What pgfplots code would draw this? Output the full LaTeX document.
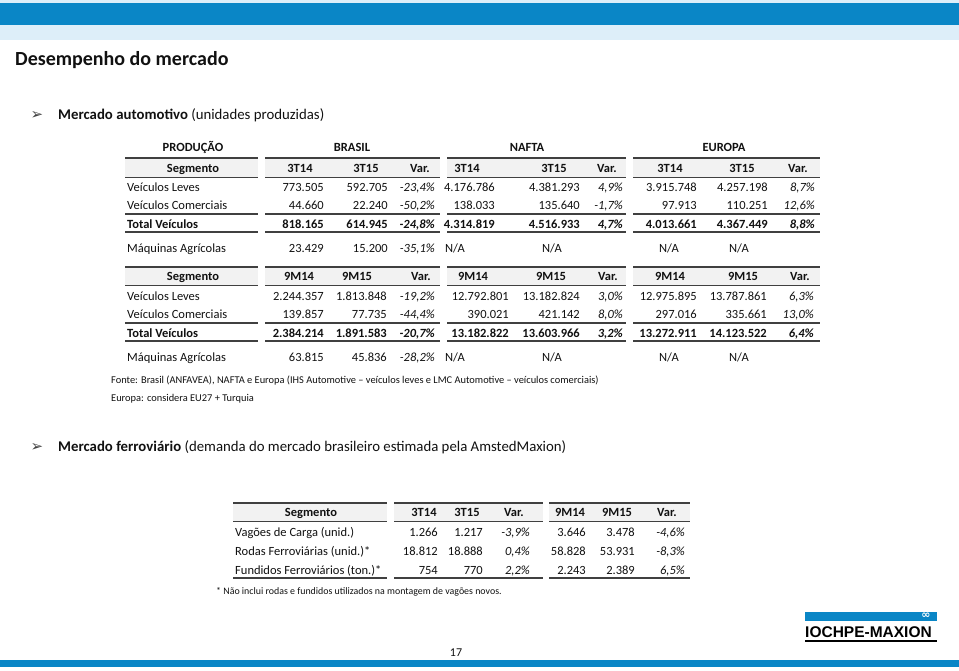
\documentclass[border=0pt]{standalone}
\usepackage{pgfplots}
\pgfplotsset{compat=1.18}
\usepackage{fontspec}
\setmainfont{Carlito}
\newfontfamily\dv{DejaVu Sans}
\newfontfamily\lib{Liberation Sans}
\definecolor{bl}{HTML}{0A86C6}
\definecolor{lbl}{HTML}{DDEEF9}
\definecolor{lc}{HTML}{404040}
\definecolor{hf}{HTML}{F2F2F2}
\definecolor{tx}{HTML}{111111}
\newcommand\tbf{\fontsize{12.5}{14}\selectfont}
\newcommand\Rt[3]{\node[anchor=base east,inner sep=0pt,font=\tbf,text=tx] at (axis cs:#1,#2) {#3};}
\newcommand\Ct[3]{\node[anchor=base,inner sep=0pt,font=\tbf,text=tx] at (axis cs:#1,#2) {#3};}
\newcommand\Lt[3]{\node[anchor=base west,inner sep=0pt,font=\tbf,text=tx] at (axis cs:#1,#2) {#3};}
\newcommand\HL[4]{\draw[line width=#4,lc] (axis cs:#1,#3) -- (axis cs:#2,#3);}
\newcommand\HF[4]{\fill[hf] (axis cs:#1,#3) rectangle (axis cs:#2,#4);}
\begin{document}
\begin{tikzpicture}
\begin{axis}[hide axis, scale only axis, width=959pt, height=670pt,
  xmin=0, xmax=959, ymin=0, ymax=670, y dir=reverse, clip=false]
\fill[white] (axis cs:0,0) rectangle (axis cs:959,670);
% top bars
\fill[lbl] (axis cs:0,0) rectangle (axis cs:959,40);
\fill[bl] (axis cs:0,3) rectangle (axis cs:959,25);
\node[anchor=base west,inner sep=0pt,font=\fontsize{20}{22}\selectfont\bfseries,text=tx] at (axis cs:15,65.5) {Desempenho do mercado};
\node[anchor=base,inner sep=0pt,font=\dv\fontsize{15}{16}\selectfont,text=lc] at (axis cs:37,119) {➢};
\node[anchor=base west,inner sep=0pt,font=\fontsize{14.8}{17}\selectfont,text=tx] at (axis cs:58,119) {\textbf{Mercado automotivo} (unidades produzidas)};
% ---------- table 1 ----------
\HF{125}{258}{158}{177}\HF{265}{440}{158}{177}\HF{447}{626}{158}{177}\HF{633}{820}{158}{177}
\HL{125}{258}{158}{1.8pt}\HL{265}{440}{158}{1.8pt}\HL{447}{626}{158}{1.8pt}\HL{633}{820}{158}{1.8pt}
\HL{125}{258}{177}{1pt}\HL{265}{440}{177}{1pt}\HL{447}{626}{177}{1pt}\HL{633}{820}{177}{1pt}
\HL{125}{258}{214}{1.4pt}\HL{265}{440}{214}{1.4pt}\HL{447}{626}{214}{1.4pt}\HL{633}{820}{214}{1.4pt}
\HL{125}{258}{232}{1.8pt}\HL{265}{440}{232}{1.8pt}\HL{447}{626}{232}{1.8pt}\HL{633}{820}{232}{1.8pt}
\Ct{193}{151}{\textbf{PRODUÇÃO}}\Ct{352}{151}{\textbf{BRASIL}}\Ct{527}{151}{\textbf{NAFTA}}\Ct{724}{151}{\textbf{EUROPA}}
\Ct{193}{172}{\textbf{Segmento}}
\Ct{300}{172}{\textbf{3T14}}\Ct{366}{172}{\textbf{3T15}}\Ct{420}{172}{\textbf{Var.}}
\Ct{467}{172}{\textbf{3T14}}\Ct{554}{172}{\textbf{3T15}}\Ct{607}{172}{\textbf{Var.}}
\Ct{670}{172}{\textbf{3T14}}\Ct{742}{172}{\textbf{3T15}}\Ct{798}{172}{\textbf{Var.}}
\Lt{127}{191}{Veículos Leves}
\Rt{324}{191}{773.505}\Rt{388}{191}{592.705}\Rt{435}{191}{\textit{-23,4\%}}
\Rt{495}{191}{4.176.786}\Rt{580}{191}{4.381.293}\Rt{623}{191}{\textit{4,9\%}}
\Rt{697}{191}{3.915.748}\Rt{768}{191}{4.257.198}\Rt{815}{191}{\textit{8,7\%}}
\Lt{127}{209}{Veículos Comerciais}
\Rt{324}{209}{44.660}\Rt{388}{209}{22.240}\Rt{435}{209}{\textit{-50,2\%}}
\Rt{495}{209}{138.033}\Rt{580}{209}{135.640}\Rt{623}{209}{\textit{-1,7\%}}
\Rt{697}{209}{97.913}\Rt{768}{209}{110.251}\Rt{815}{209}{\textit{12,6\%}}
\Lt{127}{228}{\textbf{Total Veículos}}
\Rt{324}{228}{\textbf{818.165}}\Rt{388}{228}{\textbf{614.945}}\Rt{435}{228}{\textbf{\textit{-24,8\%}}}
\Rt{495}{228}{\textbf{4.314.819}}\Rt{580}{228}{\textbf{4.516.933}}\Rt{623}{228}{\textbf{\textit{4,7\%}}}
\Rt{697}{228}{\textbf{4.013.661}}\Rt{768}{228}{\textbf{4.367.449}}\Rt{815}{228}{\textbf{\textit{8,8\%}}}
\Lt{127}{252}{Máquinas Agrícolas}
\Rt{324}{252}{23.429}\Rt{388}{252}{15.200}\Rt{435}{252}{\textit{-35,1\%}}
\Ct{455}{252}{N/A}\Ct{552}{252}{N/A}\Ct{669}{252}{N/A}\Ct{739}{252}{N/A}
% ---------- table 2 ----------
\HF{125}{258}{267}{285}\HF{265}{440}{267}{285}\HF{447}{626}{267}{285}\HF{633}{820}{267}{285}
\HL{125}{258}{267}{1.8pt}\HL{265}{440}{267}{1.8pt}\HL{447}{626}{267}{1.8pt}\HL{633}{820}{267}{1.8pt}
\HL{125}{258}{285}{1pt}\HL{265}{440}{285}{1pt}\HL{447}{626}{285}{1pt}\HL{633}{820}{285}{1pt}
\HL{125}{258}{323}{1.4pt}\HL{265}{440}{323}{1.4pt}\HL{447}{626}{323}{1.4pt}\HL{633}{820}{323}{1.4pt}
\HL{125}{258}{341}{1.8pt}\HL{265}{440}{341}{1.8pt}\HL{447}{626}{341}{1.8pt}\HL{633}{820}{341}{1.8pt}
\Ct{193}{280}{\textbf{Segmento}}
\Ct{299}{280}{\textbf{9M14}}\Ct{357}{280}{\textbf{9M15}}\Ct{421}{280}{\textbf{Var.}}
\Ct{473}{280}{\textbf{9M14}}\Ct{551}{280}{\textbf{9M15}}\Ct{608}{280}{\textbf{Var.}}
\Ct{670}{280}{\textbf{9M14}}\Ct{743}{280}{\textbf{9M15}}\Ct{800}{280}{\textbf{Var.}}
\Lt{127}{300}{Veículos Leves}
\Rt{324}{300}{2.244.357}\Rt{387}{300}{1.813.848}\Rt{435}{300}{\textit{-19,2\%}}
\Rt{509}{300}{12.792.801}\Rt{580}{300}{13.182.824}\Rt{623}{300}{\textit{3,0\%}}
\Rt{697}{300}{12.975.895}\Rt{767}{300}{13.787.861}\Rt{814}{300}{\textit{6,3\%}}
\Lt{127}{318}{Veículos Comerciais}
\Rt{324}{318}{139.857}\Rt{387}{318}{77.735}\Rt{435}{318}{\textit{-44,4\%}}
\Rt{509}{318}{390.021}\Rt{580}{318}{421.142}\Rt{623}{318}{\textit{8,0\%}}
\Rt{697}{318}{297.016}\Rt{767}{318}{335.661}\Rt{814}{318}{\textit{13,0\%}}
\Lt{127}{337}{\textbf{Total Veículos}}
\Rt{324}{337}{\textbf{2.384.214}}\Rt{387}{337}{\textbf{1.891.583}}\Rt{435}{337}{\textbf{\textit{-20,7\%}}}
\Rt{509}{337}{\textbf{13.182.822}}\Rt{580}{337}{\textbf{13.603.966}}\Rt{623}{337}{\textbf{\textit{3,2\%}}}
\Rt{697}{337}{\textbf{13.272.911}}\Rt{767}{337}{\textbf{14.123.522}}\Rt{814}{337}{\textbf{\textit{6,4\%}}}
\Lt{127}{361}{Máquinas Agrícolas}
\Rt{324}{361}{63.815}\Rt{387}{361}{45.836}\Rt{435}{361}{\textit{-28,2\%}}
\Ct{455}{361}{N/A}\Ct{552}{361}{N/A}\Ct{669}{361}{N/A}\Ct{739}{361}{N/A}
\node[anchor=base west,inner sep=0pt,font=\fontsize{10.4}{11}\selectfont,text=tx] at (axis cs:111,383.5) {Fonte: Brasil (ANFAVEA), NAFTA e Europa (IHS Automotive – veículos leves e LMC Automotive – veículos comerciais)};
\node[anchor=base west,inner sep=0pt,font=\fontsize{10.4}{11}\selectfont,text=tx] at (axis cs:111,401.5) {Europa: considera EU27 + Turquia};
% ---------- section 2 ----------
\node[anchor=base,inner sep=0pt,font=\dv\fontsize{15}{16}\selectfont,text=lc] at (axis cs:37,451) {➢};
\node[anchor=base west,inner sep=0pt,font=\fontsize{14.8}{17}\selectfont,text=tx] at (axis cs:58,451) {\textbf{Mercado ferroviário} (demanda do mercado brasileiro estimada pela AmstedMaxion)};
\HF{233}{387}{503}{521}\HF{394}{543}{503}{521}\HF{549}{690}{503}{521}
\HL{233}{387}{503}{1.8pt}\HL{394}{543}{503}{1.8pt}\HL{549}{690}{503}{1.8pt}
\HL{233}{387}{521}{1pt}\HL{394}{543}{521}{1pt}\HL{549}{690}{521}{1pt}
\HL{233}{387}{578}{1.4pt}\HL{394}{543}{578}{1.4pt}\HL{549}{690}{578}{1.4pt}
\Ct{311}{516}{\textbf{Segmento}}
\Ct{424}{516}{\textbf{3T14}}\Ct{467}{516}{\textbf{3T15}}\Ct{514}{516}{\textbf{Var.}}
\Ct{570}{516}{\textbf{9M14}}\Ct{617}{516}{\textbf{9M15}}\Ct{667}{516}{\textbf{Var.}}
\Lt{235}{536}{Vagões de Carga (unid.)}
\Rt{438}{536}{1.266}\Rt{483}{536}{1.217}\Rt{530}{536}{\textit{-3,9\%}}
\Rt{586}{536}{3.646}\Rt{635}{536}{3.478}\Rt{685}{536}{\textit{-4,6\%}}
\Lt{235}{555}{Rodas Ferroviárias (unid.)*}
\Rt{438}{555}{18.812}\Rt{483}{555}{18.888}\Rt{530}{555}{\textit{0,4\%}}
\Rt{586}{555}{58.828}\Rt{635}{555}{53.931}\Rt{685}{555}{\textit{-8,3\%}}
\Lt{235}{574}{Fundidos Ferroviários (ton.)*}
\Rt{438}{574}{754}\Rt{483}{574}{770}\Rt{530}{574}{\textit{2,2\%}}
\Rt{586}{574}{2.243}\Rt{635}{574}{2.389}\Rt{685}{574}{\textit{6,5\%}}
\node[anchor=base west,inner sep=0pt,font=\fontsize{9.9}{11}\selectfont,text=tx] at (axis cs:216,594) {* Não inclui rodas e fundidos utilizados na montagem de vagões novos.};
% logo
\fill[bl] (axis cs:805,612) rectangle (axis cs:937,621);
\node[anchor=center,inner sep=0pt,font=\dv\fontsize{11}{11}\selectfont\bfseries,text=white] at (axis cs:926,616) {∞};
\node[anchor=base west,inner sep=0pt,font=\lib\fontsize{15.5}{17}\selectfont\bfseries,text=black] at (axis cs:805,637) {IOCHPE-MAXION};
\draw[line width=1.5pt,black] (axis cs:805,641) -- (axis cs:937,641);
% page number & bottom bar
\node[anchor=base,inner sep=0pt,font=\fontsize{12}{13}\selectfont,text=tx] at (axis cs:456,656) {17};
\fill[bl] (axis cs:0,660) rectangle (axis cs:959,667);
\end{axis}
\end{tikzpicture}
\end{document}
